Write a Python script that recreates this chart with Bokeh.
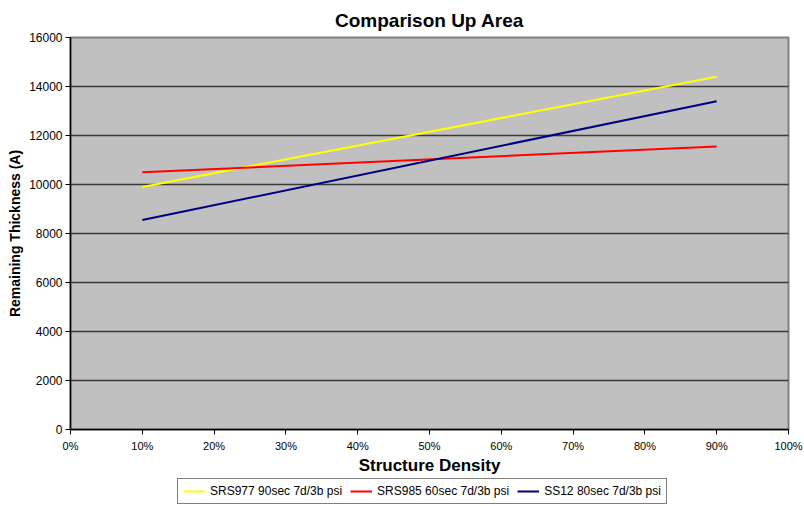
from bokeh.plotting import figure
from bokeh.layouts import column
from bokeh.models import Range1d, FixedTicker, NumeralTickFormatter, Legend, LegendItem
from bokeh.embed import file_html
from bokeh.resources import INLINE

density = [0.10, 0.90]
srs977 = [9900, 14400]
srs985 = [10500, 11550]
ss12 = [8550, 13400]
series_names = ["SRS977 90sec 7d/3b psi", "SRS985 60sec 7d/3b psi", "SS12 80sec 7d/3b psi"]
series_colors = ["#ffff00", "#ff0000", "#000080"]
x_ticks = [0.0, 0.1, 0.2, 0.3, 0.4, 0.5, 0.6, 0.7, 0.8, 0.9, 1.0]
y_ticks = [0, 2000, 4000, 6000, 8000, 10000, 12000, 14000, 16000]

FONT = "Liberation Sans"

p = figure(width=804, height=478, output_backend="svg", toolbar_location=None,
           x_range=Range1d(0, 1), y_range=Range1d(0, 16000),
           min_border_left=70, min_border_right=16, min_border_top=37, min_border_bottom=49)

p.title.text = "Comparison Up Area"
p.title.align = "center"
p.title.text_font = FONT
p.title.text_font_size = "19px"
p.title.text_font_style = "bold"
p.title.text_color = "black"
p.title.standoff = 13

p.background_fill_color = "#c0c0c0"
p.border_fill_color = "white"
p.outline_line_color = "#808080"
p.outline_line_width = 2

p.xgrid.visible = False
p.ygrid.ticker = FixedTicker(ticks=y_ticks)
p.ygrid.grid_line_color = "#3a3a3a"
p.ygrid.grid_line_width = 1.5

p.xaxis.ticker = FixedTicker(ticks=x_ticks)
p.xaxis.formatter = NumeralTickFormatter(format="0%")
p.yaxis.ticker = FixedTicker(ticks=y_ticks)
p.yaxis.formatter = NumeralTickFormatter(format="0")

for ax in (p.xaxis[0], p.yaxis[0]):
    ax.axis_line_color = "black"
    ax.axis_line_width = 1.5
    ax.major_tick_line_color = "black"
    ax.major_tick_out = 5
    ax.major_tick_in = 0
    ax.minor_tick_line_color = None
    ax.major_label_text_font = FONT
    ax.major_label_text_color = "black"
    ax.axis_label_text_font = FONT
    ax.axis_label_text_font_style = "bold"
    ax.axis_label_text_color = "black"

p.xaxis.major_label_text_font_size = "11px"
p.yaxis.major_label_text_font_size = "12px"
p.xaxis.axis_label_text_font_size = "17px"
p.yaxis.axis_label_text_font_size = "14px"
p.xaxis.axis_label = "Structure Density"
p.yaxis.axis_label = "Remaining Thickness (A)"
p.xaxis.major_label_standoff = 5
p.xaxis.axis_label_standoff = 1
p.yaxis.major_label_standoff = 3
p.yaxis.axis_label_standoff = 3

r1 = p.line(density, srs977, line_color=series_colors[0], line_width=2)
r2 = p.line(density, srs985, line_color=series_colors[1], line_width=2)
r3 = p.line(density, ss12, line_color=series_colors[2], line_width=2)

# legend strip below the chart (its frame is aligned with the chart frame)
lg = figure(width=804, height=28, output_backend="svg", toolbar_location=None,
            x_range=Range1d(0, 1), y_range=Range1d(100000, 100001),
            x_axis_type=None, y_axis_type=None,
            min_border_left=0, min_border_right=0, min_border_top=0, min_border_bottom=0)
lg.outline_line_color = None
lg.xgrid.visible = False
lg.ygrid.visible = False
items = []
for name, col, vals in zip(series_names, series_colors, [srs977, srs985, ss12]):
    rr = lg.line(density, vals, line_color=col, line_width=2)
    items.append(LegendItem(label=name, renderers=[rr]))

legend = Legend(items=items, orientation="horizontal", location=(107, 2))
legend.border_line_color = "black"
legend.border_line_width = 1
legend.background_fill_color = "white"
legend.background_fill_alpha = 1
legend.label_text_font = FONT
legend.label_text_font_size = "12px"
legend.label_text_color = "black"
legend.glyph_width = 22
legend.glyph_height = 14
legend.label_standoff = 5
legend.spacing = 8
legend.padding = 5
legend.margin = 0
legend.label_height = 14
lg.add_layout(legend, "center")

layout = column(p, lg, spacing=0)
open("out.html", "w").write(file_html(layout, INLINE))
